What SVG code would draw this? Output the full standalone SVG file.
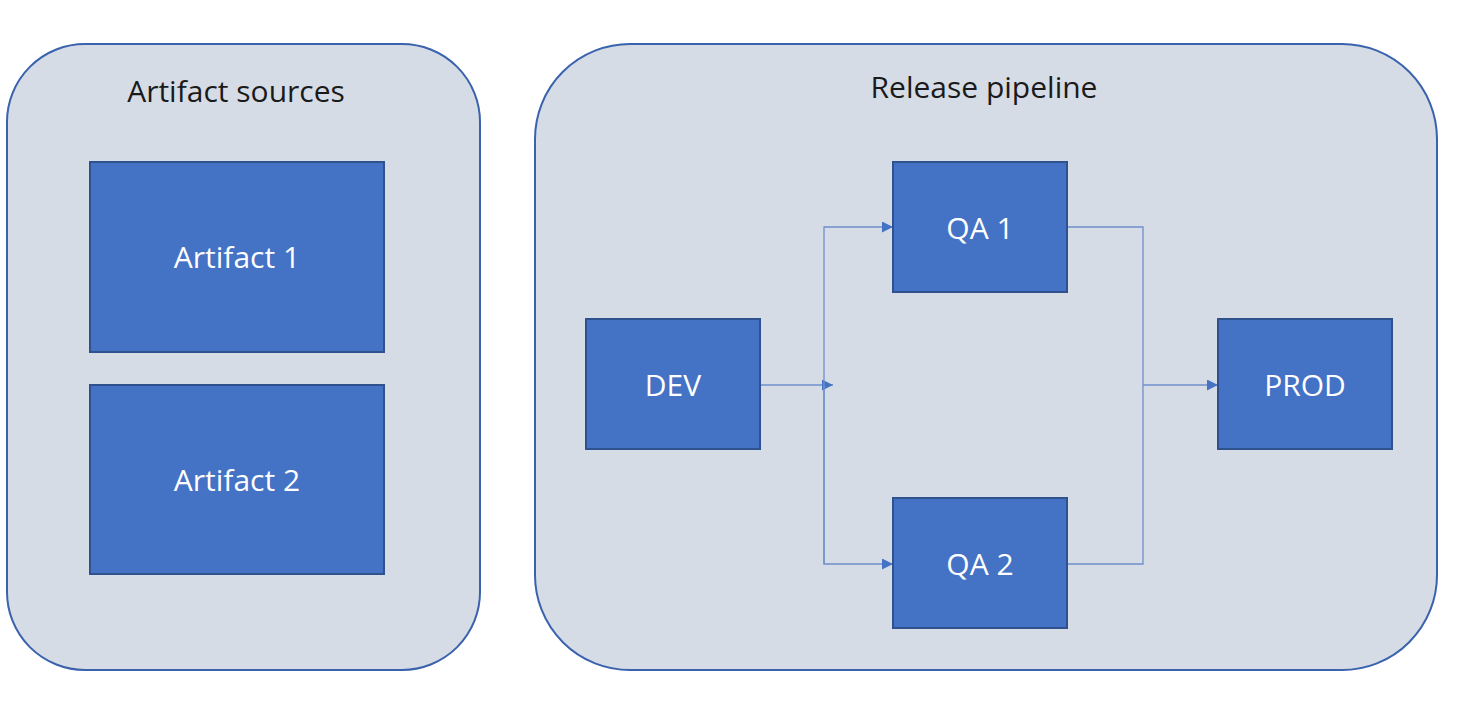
<svg xmlns="http://www.w3.org/2000/svg" width="1461" height="712" viewBox="0 0 1461 712">
<style>
.cont{fill:#D6DCE5;stroke:#3A62AD;stroke-width:2}
.node{fill:#4472C4;stroke:#2F528F;stroke-width:2}
.title{font-family:"Open Sans","Noto Sans",sans-serif;font-size:30px;fill:#1A1A1A;text-anchor:middle}
.lbl{font-family:"Open Sans","Noto Sans",sans-serif;font-size:30px;fill:#FFFFFF;text-anchor:middle}
.conn{fill:none;stroke:#6E8FCC;stroke-width:1.3}
</style>
<defs>
<marker id="arr" viewBox="0 0 10 10" refX="10" refY="5" markerWidth="11" markerHeight="11" markerUnits="userSpaceOnUse" orient="auto">
<path d="M0,0 L10,5 L0,10 Z" fill="#4472C4"/>
</marker>
</defs>
<rect width="1461" height="712" fill="#FFFFFF"/>
<g id="artifact-sources">
<rect class="cont" x="7" y="44" width="473" height="626" rx="78" ry="78"/>
<text class="title" x="236" y="102">Artifact sources</text>
</g>
<g id="release-pipeline">
<rect class="cont" x="535" y="44" width="902" height="626" rx="95" ry="95"/>
<text class="title" x="984" y="98">Release pipeline</text>
</g>
<g id="connectors">
<path class="conn" d="M760,385 H833" marker-end="url(#arr)"/>
<path class="conn" d="M824,564 V227 H893" marker-end="url(#arr)"/>
<path class="conn" d="M824,385 V564 H893" marker-end="url(#arr)"/>
<path class="conn" d="M1067,227 H1143 V564 H1067"/>
<path class="conn" d="M1143,385 H1218" marker-end="url(#arr)"/>
</g>
<g id="artifact1">
<rect class="node" x="90" y="162" width="294" height="190"/>
<text class="lbl" x="237" y="268">Artifact 1</text>
</g>
<g id="artifact2">
<rect class="node" x="90" y="385" width="294" height="189"/>
<text class="lbl" x="237" y="491">Artifact 2</text>
</g>
<g id="dev">
<rect class="node" x="586" y="319" width="174" height="130"/>
<text class="lbl" x="673" y="396">DEV</text>
</g>
<g id="qa1">
<rect class="node" x="893" y="162" width="174" height="130"/>
<text class="lbl" x="980" y="239">QA 1</text>
</g>
<g id="qa2">
<rect class="node" x="893" y="498" width="174" height="130"/>
<text class="lbl" x="980" y="575">QA 2</text>
</g>
<g id="prod">
<rect class="node" x="1218" y="319" width="174" height="130"/>
<text class="lbl" x="1305" y="396">PROD</text>
</g>
</svg>
